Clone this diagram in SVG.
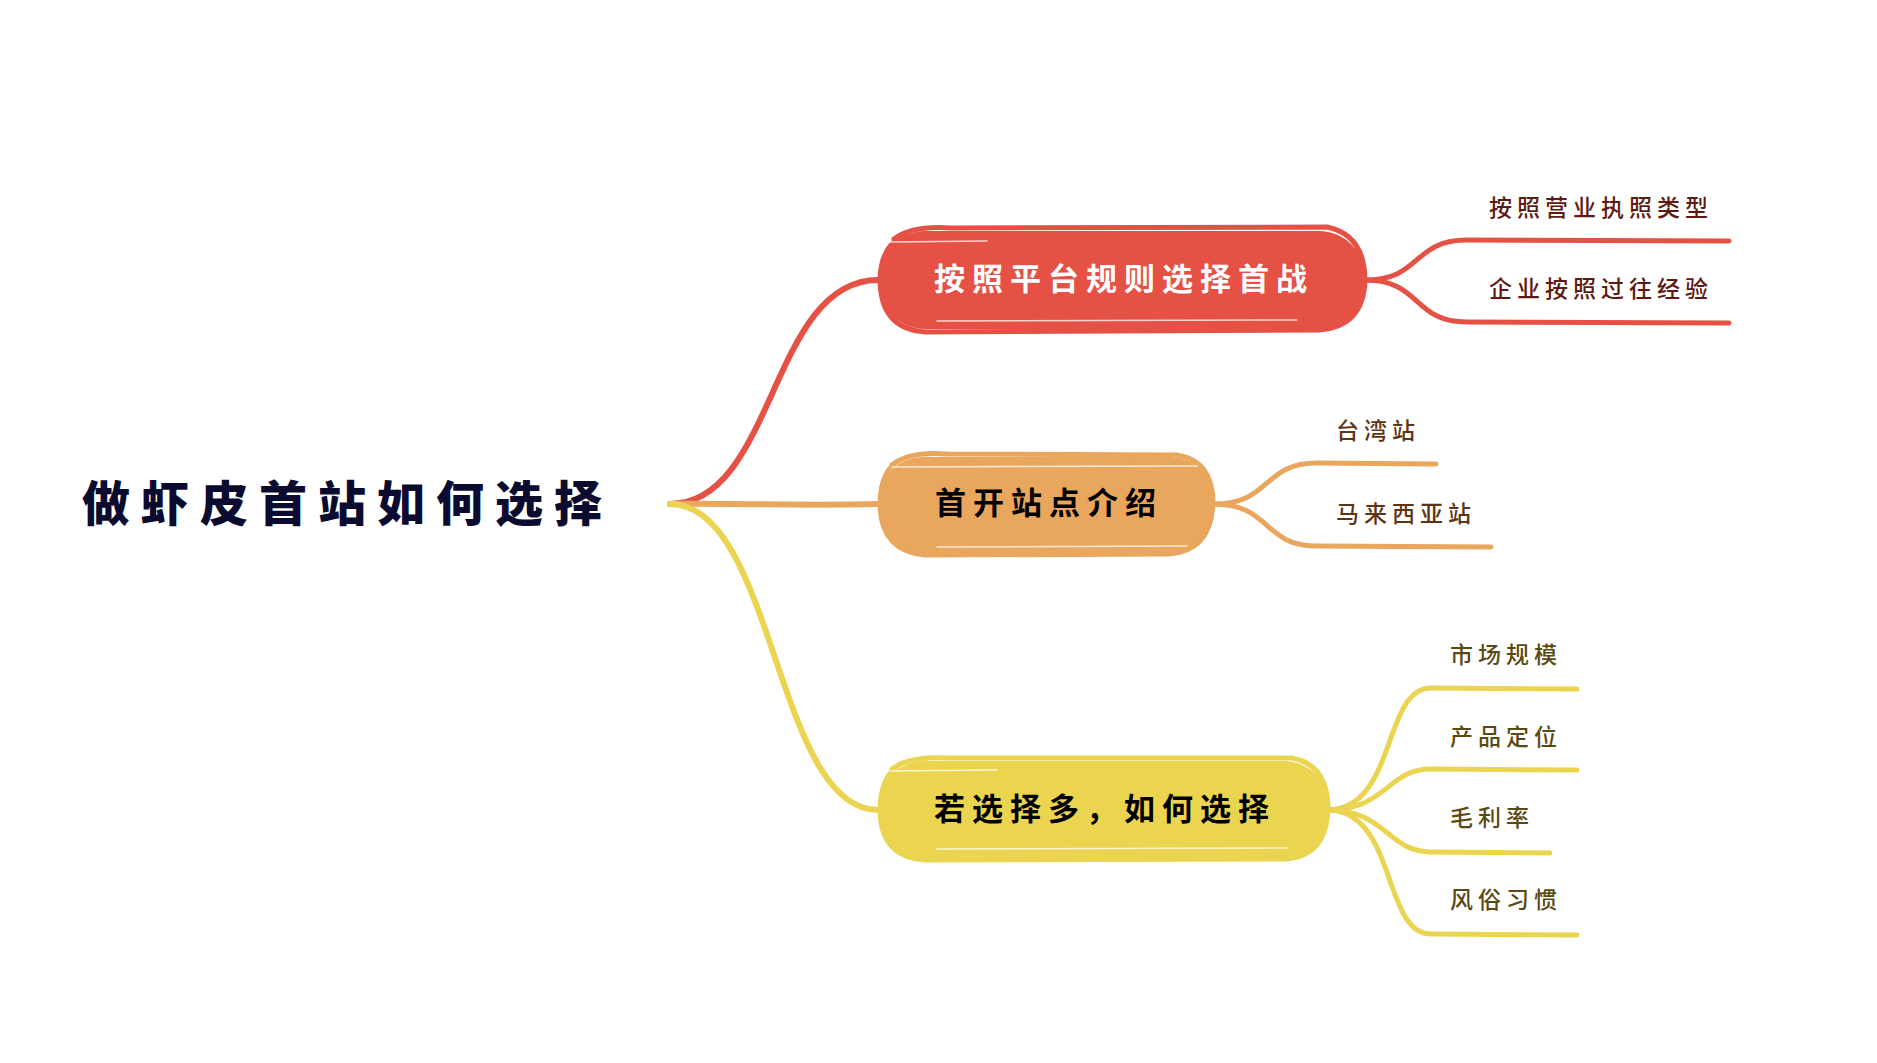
<svg xmlns="http://www.w3.org/2000/svg" width="1877" height="1063" viewBox="0 0 1877 1063">
<style>
.root{font-family:"Noto Sans CJK SC","Noto Sans",sans-serif;font-weight:900;font-size:48px;letter-spacing:11px;fill:#0b0b30}
.main{font-family:"Noto Sans CJK SC","Noto Sans",sans-serif;font-weight:700;font-size:31px;letter-spacing:7px;text-anchor:middle}
.sub{font-family:"Noto Sans CJK SC","Noto Sans",sans-serif;font-weight:500;font-size:23px;letter-spacing:5px}
.c{fill:none;stroke-linecap:round;stroke-linejoin:round}
.red{stroke:#e55245}.org{stroke:#e9a65d}.yel{stroke:#ead450}
.hl{fill:none;stroke:#ffffff;stroke-width:1.5;opacity:0.75;stroke-linecap:round}
</style>
<rect width="1877" height="1063" fill="#ffffff"/>
<g id="connectors">
<path class="c red" stroke-width="6" d="M670,504 C775,504 770,280 878,280"/>
<path class="c org" stroke-width="6" d="M670,504 C720,503 800,506 878,504"/>
<path class="c yel" stroke-width="6" d="M670,504 C775,504 775,810 878,810"/>
<path class="c red" stroke-width="5" d="M1365,280 C1422,280 1412,240 1467,240 L1729,241"/>
<path class="c red" stroke-width="5" d="M1365,280 C1422,280 1412,322 1467,322 L1729,323"/>
<path class="c org" stroke-width="5" d="M1213,504 C1272,504 1262,463 1317,463 L1436,464"/>
<path class="c org" stroke-width="5" d="M1213,504 C1272,504 1262,546 1317,546 L1491,547"/>
<path class="c yel" stroke-width="5" d="M1327,810 C1397,810 1382,688 1431,688 L1577,689"/>
<path class="c yel" stroke-width="5" d="M1327,810 C1387,810 1387,769 1431,769 L1577,770"/>
<path class="c yel" stroke-width="5" d="M1327,810 C1387,810 1387,852 1431,852 L1550,853"/>
<path class="c yel" stroke-width="5" d="M1327,810 C1397,810 1382,934 1431,934 L1577,935"/>
</g>
<g id="root">
<text class="root" x="82" y="521">做虾皮首站如何选择</text>
</g>
<g id="node1">
<rect x="879" y="231" width="486" height="98" rx="46" fill="#e55245"/>
<path class="c red" stroke-width="5" d="M894,239 Q912,225 952,228 L1327,227 Q1365,235 1365,281 Q1363,327 1319,330 L925,332 Q881,329 880,281 Q880,245 907,233"/>
<path class="hl" d="M890,242 L987,241"/>
<path class="hl" d="M937,321 L1297,320"/>
<text class="main" x="1124" y="290" fill="#ffffff">按照平台规则选择首战</text>
</g>
<g id="node2">
<rect x="879" y="457" width="335" height="96" rx="44" fill="#e9a65d"/>
<path class="c org" stroke-width="5" d="M892,465 Q909,451 947,454 L1177,455 Q1213,461 1213,503 Q1211,551 1169,554 L925,555 Q881,551 880,505 Q880,469 902,459"/>
<path class="hl" d="M892,467 L1197,466"/>
<path class="hl" d="M937,547 L1187,546"/>
<text class="main" x="1049" y="514" fill="#000000">首开站点介绍</text>
</g>
<g id="node3">
<rect x="879" y="761" width="450" height="97" rx="45" fill="#ead450"/>
<path class="c yel" stroke-width="5" d="M892,769 Q909,756 947,758 L1292,758 Q1328,765 1328,809 Q1326,857 1285,859 L925,860 Q881,857 880,811 Q880,775 902,763"/>
<path class="hl" d="M890,771 L997,770"/>
<path class="hl" d="M937,849 L1287,848"/>
<text class="main" x="1105" y="820" fill="#000000">若选择多，如何选择</text>
</g>
<g id="sub-red" fill="#5e1a12">
<text class="sub" x="1489" y="216">按照营业执照类型</text>
<text class="sub" x="1489" y="297">企业按照过往经验</text>
</g>
<g id="sub-orange" fill="#5e3512">
<text class="sub" x="1336" y="439">台湾站</text>
<text class="sub" x="1336" y="522">马来西亚站</text>
</g>
<g id="sub-yellow" fill="#5a4a12">
<text class="sub" x="1450" y="663">市场规模</text>
<text class="sub" x="1450" y="745">产品定位</text>
<text class="sub" x="1450" y="826">毛利率</text>
<text class="sub" x="1450" y="908">风俗习惯</text>
</g>
</svg>
